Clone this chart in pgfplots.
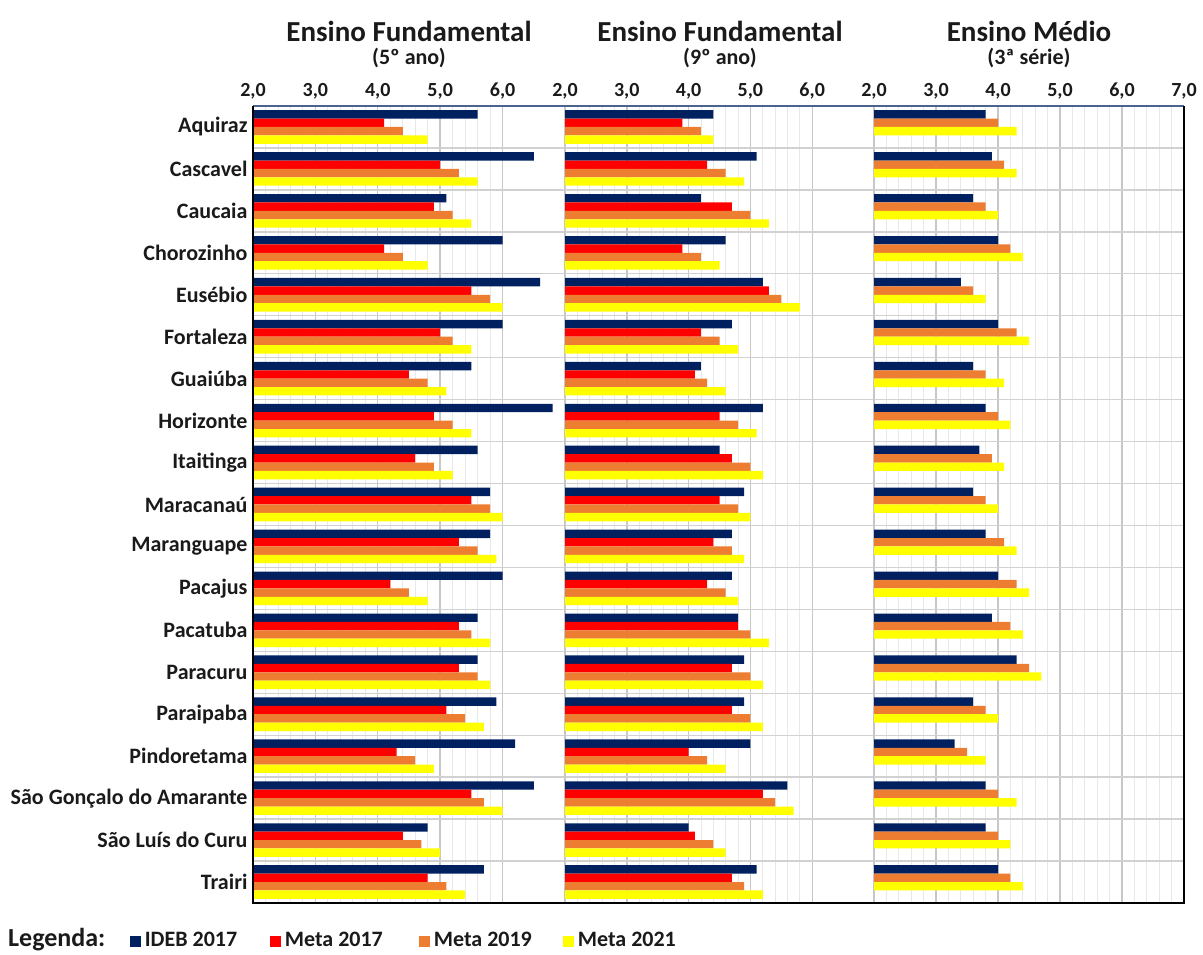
\documentclass[border=0pt]{standalone}
\usepackage{pgfplots}
\pgfplotsset{compat=1.18}
\usepackage{pgfplotstable}
\usepackage{fontspec}
\setmainfont{Carlito}
\definecolor{navy}{HTML}{002060}
\definecolor{mred}{HTML}{FF0000}
\definecolor{morange}{HTML}{ED7D31}
\definecolor{myellow}{HTML}{FFFF00}
\definecolor{txt}{HTML}{1A1A1A}

% pos: 18 = Aquiraz ... 0 = Trairi
\pgfplotstableread{
pos ideb m17 m19 m21
18 5.6 4.1 4.4 4.8
17 6.5 5.0 5.3 5.6
16 5.1 4.9 5.2 5.5
15 6.0 4.1 4.4 4.8
14 6.6 5.5 5.8 6.0
13 6.0 5.0 5.2 5.5
12 5.5 4.5 4.8 5.1
11 6.8 4.9 5.2 5.5
10 5.6 4.6 4.9 5.2
9 5.8 5.5 5.8 6.0
8 5.8 5.3 5.6 5.9
7 6.0 4.2 4.5 4.8
6 5.6 5.3 5.5 5.8
5 5.6 5.3 5.6 5.8
4 5.9 5.1 5.4 5.7
3 6.2 4.3 4.6 4.9
2 6.5 5.5 5.7 6.0
1 4.8 4.4 4.7 5.0
0 5.7 4.8 5.1 5.4
}\tabA
\pgfplotstableread{
pos ideb m17 m19 m21
18 4.4 3.9 4.2 4.4
17 5.1 4.3 4.6 4.9
16 4.2 4.7 5.0 5.3
15 4.6 3.9 4.2 4.5
14 5.2 5.3 5.5 5.8
13 4.7 4.2 4.5 4.8
12 4.2 4.1 4.3 4.6
11 5.2 4.5 4.8 5.1
10 4.5 4.7 5.0 5.2
9 4.9 4.5 4.8 5.0
8 4.7 4.4 4.7 4.9
7 4.7 4.3 4.6 4.8
6 4.8 4.8 5.0 5.3
5 4.9 4.7 5.0 5.2
4 4.9 4.7 5.0 5.2
3 5.0 4.0 4.3 4.6
2 5.6 5.2 5.4 5.7
1 4.0 4.1 4.4 4.6
0 5.1 4.7 4.9 5.2
}\tabB
\pgfplotstableread{
pos ideb m19 m21
18 3.8 4.0 4.3
17 3.9 4.1 4.3
16 3.6 3.8 4.0
15 4.0 4.2 4.4
14 3.4 3.6 3.8
13 4.0 4.3 4.5
12 3.6 3.8 4.1
11 3.8 4.0 4.2
10 3.7 3.9 4.1
9 3.6 3.8 4.0
8 3.8 4.1 4.3
7 4.0 4.3 4.5
6 3.9 4.2 4.4
5 4.3 4.5 4.7
4 3.6 3.8 4.0
3 3.3 3.5 3.8
2 3.8 4.0 4.3
1 3.8 4.0 4.2
0 4.0 4.2 4.4
}\tabC

\pgfplotsset{panel/.style={
  scale only axis, height=797pt, ymin=-0.5, ymax=18.5, xmin=2, xmax=7,
  anchor=south west,
  xbar, bar width=8.4pt,
  xtick={2,...,6}, minor x tick num=4, xmajorgrids, xminorgrids,
  major grid style={draw=black!22, line width=1.4pt},
  minor grid style={draw=black!9, line width=0.9pt},
  major tick length=0pt, minor tick length=0pt,
  xticklabel pos=right,
  axis line style={draw=none},
  ytick={0,...,18}, yticklabels={},
  extra y ticks={-0.5,0.5,...,18.5}, extra y tick labels={},
  extra y tick style={grid=major, major grid style={draw=black!18, line width=1.4pt}},
  xticklabel style={font=\bfseries\fontsize{20}{20}\selectfont, text=txt, yshift=3pt},
  yticklabel style={font=\bfseries\fontsize{22}{22}\selectfont, text=txt, xshift=-2pt},
  /pgf/number format/.cd, fixed, fixed zerofill, precision=1, use comma, assume math mode=true,
}}

\begin{document}
\begin{tikzpicture}[x=1pt,y=1pt]
\useasboundingbox (0,0) rectangle (1203,954);

\begin{axis}[panel, name=p1, at={(253pt,51pt)}, width=312pt,
  yticklabels={Trairi,São Luís do Curu,São Gonçalo do Amarante,Pindoretama,Paraipaba,Paracuru,Pacatuba,Pacajus,Maranguape,Maracanaú,Itaitinga,Horizonte,Guaiúba,Fortaleza,Eusébio,Chorozinho,Caucaia,Cascavel,Aquiraz}]
\addplot[fill=navy, draw=none, bar shift=12.6pt] table[x=ideb,y=pos]{\tabA};
\addplot[fill=mred, draw=none, bar shift=4.2pt] table[x=m17,y=pos]{\tabA};
\addplot[fill=morange, draw=none, bar shift=-4.2pt] table[x=m19,y=pos]{\tabA};
\addplot[fill=myellow, draw=none, bar shift=-12.6pt] table[x=m21,y=pos]{\tabA};
\end{axis}

\begin{axis}[panel, name=p2, at={(565pt,51pt)}, width=309pt]
\addplot[fill=navy, draw=none, bar shift=12.6pt] table[x=ideb,y=pos]{\tabB};
\addplot[fill=mred, draw=none, bar shift=4.2pt] table[x=m17,y=pos]{\tabB};
\addplot[fill=morange, draw=none, bar shift=-4.2pt] table[x=m19,y=pos]{\tabB};
\addplot[fill=myellow, draw=none, bar shift=-12.6pt] table[x=m21,y=pos]{\tabB};
\end{axis}

\begin{axis}[panel, name=p3, at={(874pt,51pt)}, width=310pt, xtick={2,...,7}]
\addplot[fill=navy, draw=none, bar shift=12.6pt] table[x=ideb,y=pos]{\tabC};
\addplot[fill=morange, draw=none, bar shift=4.2pt] table[x=m19,y=pos]{\tabC};
\addplot[fill=myellow, draw=none, bar shift=-4.2pt] table[x=m21,y=pos]{\tabC};
\end{axis}

% frame
\draw[navy!70, line width=1.5pt] (p1.north west) -- (p3.north east);
\draw[black, line width=2pt] (p1.north west) -- (p1.south west) -- (p3.south east) -- (p3.north east);

% titles
\begin{scope}[every node/.style={text=txt, font=\bfseries, inner sep=0pt}]
\node[font=\bfseries\fontsize{29}{29}\selectfont] at (409,923) {Ensino Fundamental};
\node[font=\bfseries\fontsize{22}{22}\selectfont] at (409,896) {(5º ano)};
\node[font=\bfseries\fontsize{29}{29}\selectfont] at (720,923) {Ensino Fundamental};
\node[font=\bfseries\fontsize{22}{22}\selectfont] at (720,896) {(9º ano)};
\node[font=\bfseries\fontsize{29}{29}\selectfont] at (1029,923) {Ensino Médio};
\node[font=\bfseries\fontsize{22}{22}\selectfont] at (1029,896) {(3ª série)};

% legend
\node[anchor=base west, font=\bfseries\fontsize{26}{26}\selectfont] at (8,7.5) {Legenda:};
\node[anchor=base west, font=\bfseries\fontsize{22}{22}\selectfont] at (130,7.5) {\textcolor{navy}{\rule{11pt}{11pt}}\,IDEB 2017};
\node[anchor=base west, font=\bfseries\fontsize{22}{22}\selectfont] at (270,7.5) {\textcolor{mred}{\rule{11pt}{11pt}}\,Meta 2017};
\node[anchor=base west, font=\bfseries\fontsize{22}{22}\selectfont] at (419,7.5) {\textcolor{morange}{\rule{11pt}{11pt}}\,Meta 2019};
\node[anchor=base west, font=\bfseries\fontsize{22}{22}\selectfont] at (563,7.5) {\textcolor{myellow}{\rule{11pt}{11pt}}\,Meta 2021};
\end{scope}
\end{tikzpicture}
\end{document}
